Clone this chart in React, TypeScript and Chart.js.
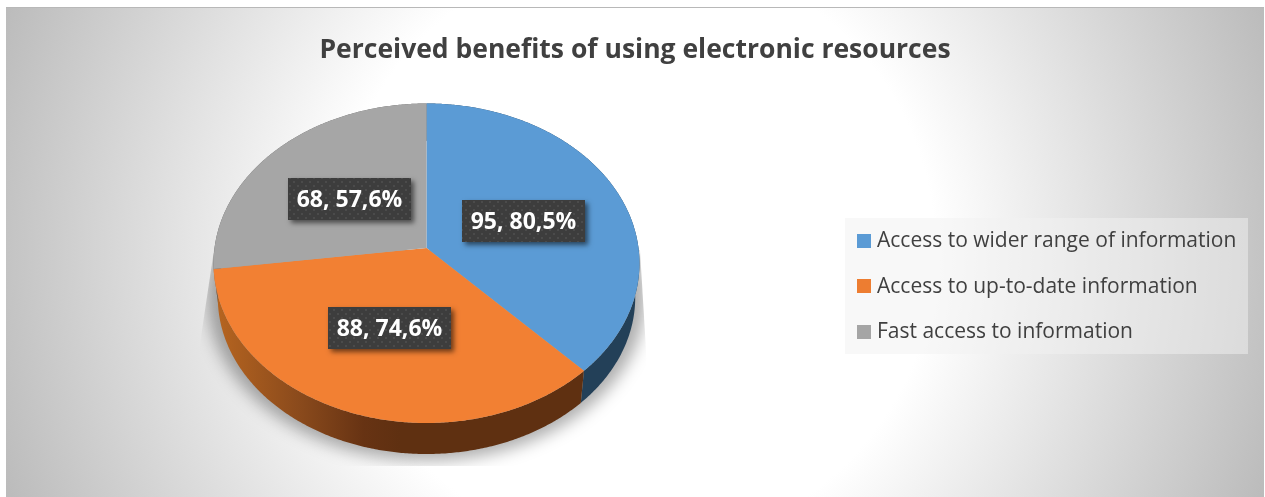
import React, { useEffect, useRef } from "react";
import { Chart, registerables } from "chart.js";

Chart.register(...registerables);

const chartTitle = "Perceived benefits of using electronic resources";
const categories = [
  "Access to wider range of information",
  "Access to up-to-date information",
  "Fast access to information",
];
const respondents = [95, 88, 68];
const percentages = [80.5, 74.6, 57.6];
const faceColors = ["#5b9bd5", "#f28033", "#a6a6a6"];
const legendColors = ["#5b9bd5", "#ed7d31", "#a5a5a5"];

const WIDTH = 1265;
const HEIGHT = 497;

// Tilted disc: a homography from the unit circle to the screen.
const PIE = { cx: 426.5, cy: 248, ax: 212, ay: 158.3, k: 0.0955 };
const BASE = { scale: 0.98, drop: 34.5 };

function project(angle: number, radius = 1, scale = 1, drop = 0) {
  const u = Math.cos(angle) * radius;
  const v = Math.sin(angle) * radius;
  const d = 1 - PIE.k * v;
  return {
    x: PIE.cx + (scale * PIE.ax * u) / d,
    y: PIE.cy + drop + (scale * PIE.ay * v) / d,
  };
}

function traceRim(
  ctx: CanvasRenderingContext2D,
  from: number,
  to: number,
  scale = 1,
  drop = 0,
  move = false,
) {
  const steps = Math.max(8, Math.ceil(Math.abs(to - from) * 120));
  for (let i = 0; i <= steps; i++) {
    const p = project(from + ((to - from) * i) / steps, 1, scale, drop);
    if (i === 0 && move) ctx.moveTo(p.x, p.y);
    else ctx.lineTo(p.x, p.y);
  }
}

function paintBackground(ctx: CanvasRenderingContext2D) {
  ctx.fillStyle = "#ffffff";
  ctx.fillRect(0, 0, WIDTH, HEIGHT);
  const g = ctx.createRadialGradient(635, 250, 300, 635, 250, 676);
  g.addColorStop(0, "#ffffff");
  g.addColorStop(1, "#bbbbbb");
  ctx.fillStyle = g;
  ctx.fillRect(6, 7, 1258, HEIGHT - 7);
  ctx.fillStyle = "#b8b8b8";
  ctx.fillRect(6, 7, 1258, 1);
}

function paintGroundShadow(ctx: CanvasRenderingContext2D) {
  ctx.save();
  ctx.beginPath();
  ctx.moveTo(214, 250);
  ctx.lineTo(199, 350);
  ctx.lineTo(199, 466);
  ctx.lineTo(653, 466);
  ctx.lineTo(640, 250);
  ctx.closePath();
  ctx.clip();
  ctx.filter = "blur(8px)";
  ctx.fillStyle = "rgba(0,0,0,0.32)";
  ctx.beginPath();
  traceRim(ctx, 0, Math.PI * 2, 1.03, BASE.drop - 2, true);
  ctx.closePath();
  ctx.fill();
  ctx.restore();
}

function wallFill(ctx: CanvasRenderingContext2D, index: number) {
  if (index === 0) return "#234058";
  if (index === 2) return "#5f5f5f";
  const g = ctx.createLinearGradient(218, 0, 400, 0);
  g.addColorStop(0, "#b56420");
  g.addColorStop(0.45, "#8a4a1c");
  g.addColorStop(0.8, "#673313");
  g.addColorStop(1, "#5f3011");
  return g;
}

function dotPattern(ctx: CanvasRenderingContext2D) {
  const tile = document.createElement("canvas");
  tile.width = 8;
  tile.height = 8;
  const t = tile.getContext("2d")!;
  t.fillStyle = "#3d3d3d";
  t.fillRect(0, 0, 8, 8);
  t.fillStyle = "#4b4b4b";
  t.fillRect(1, 1, 2, 2);
  t.fillRect(5, 5, 2, 2);
  return ctx.createPattern(tile, "repeat")!;
}

const perspectivePie = {
  id: "perspectivePie",
  beforeDraw(chart: any) {
    paintBackground(chart.ctx);
  },
  beforeDatasetDraw(chart: any, args: any) {
    const ctx: CanvasRenderingContext2D = chart.ctx;
    const arcs = args.meta.data;
    paintGroundShadow(ctx);
    // Side wall first, so the top face overlaps its upper edge.
    arcs.forEach((arc: any, i: number) => {
      ctx.beginPath();
      traceRim(ctx, arc.startAngle, arc.endAngle, 1, 0, true);
      traceRim(ctx, arc.endAngle, arc.startAngle, BASE.scale, BASE.drop);
      ctx.closePath();
      ctx.fillStyle = wallFill(ctx, i);
      ctx.fill();
    });
    arcs.forEach((arc: any, i: number) => {
      ctx.beginPath();
      ctx.moveTo(PIE.cx, PIE.cy);
      traceRim(ctx, arc.startAngle, arc.endAngle);
      ctx.closePath();
      ctx.fillStyle = chart.data.datasets[0].backgroundColor[i];
      ctx.fill();
    });
    return false;
  },
  afterDraw(chart: any) {
    const ctx: CanvasRenderingContext2D = chart.ctx;
    const arcs = chart.getDatasetMeta(0).data;
    const pattern = dotPattern(ctx);

    // Value labels on dark plates at the middle of each slice.
    arcs.forEach((arc: any, i: number) => {
      const mid = (arc.startAngle + arc.endAngle) / 2;
      const c = project(mid, 0.5);
      const w = 123;
      const h = 42;
      const x = Math.round(c.x - w / 2);
      const y = Math.round(c.y + 2 - h / 2);
      ctx.save();
      ctx.shadowColor = "rgba(0,0,0,0.55)";
      ctx.shadowBlur = 5;
      ctx.shadowOffsetX = 3;
      ctx.shadowOffsetY = 3;
      ctx.fillStyle = "#3d3d3d";
      ctx.fillRect(x, y, w, h);
      ctx.restore();
      ctx.fillStyle = pattern;
      ctx.fillRect(x, y, w, h);
      ctx.fillStyle = "#ffffff";
      ctx.font = "700 23px 'Open Sans', sans-serif";
      ctx.textAlign = "center";
      ctx.textBaseline = "middle";
      const pct = percentages[i].toFixed(1).replace(".", ",");
      ctx.fillText(`${respondents[i]}, ${pct}%`, x + w / 2, y + h / 2 + 1);
    });

    // Legend panel.
    ctx.fillStyle = "rgba(242,242,242,0.5)";
    ctx.fillRect(845, 218, 403, 136);
    ctx.font = "400 21px 'Open Sans', sans-serif";
    ctx.textAlign = "left";
    ctx.textBaseline = "middle";
    chart.data.labels.forEach((label: string, i: number) => {
      const y = 240 + i * 45.25;
      ctx.fillStyle = legendColors[i];
      ctx.fillRect(857, Math.round(y - 6), 14, 14);
      ctx.fillStyle = "#404040";
      ctx.fillText(label, 877, y + 1.5);
    });
  },
};

export default function App() {
  const ref = useRef<HTMLCanvasElement>(null);
  useEffect(() => {
    const chart = new Chart(ref.current!, {
      type: "pie",
      data: {
        labels: categories,
        datasets: [{ data: respondents, backgroundColor: faceColors, borderWidth: 0 }],
      },
      options: {
        animation: false,
        responsive: false,
        layout: { padding: { left: 5 } },
        plugins: {
          legend: { display: false },
          tooltip: { enabled: false },
          title: {
            display: true,
            text: chartTitle,
            color: "#404040",
            font: { family: "'Open Sans', sans-serif", size: 26.5, weight: "bold" },
            padding: { top: 35, bottom: 10 },
          },
        },
      },
      plugins: [perspectivePie],
    } as any);
    return () => chart.destroy();
  }, []);
  return (
    <div style={{ position: "fixed", left: 0, top: 0, width: WIDTH, height: HEIGHT }}>
      <canvas ref={ref} width={WIDTH} height={HEIGHT} style={{ display: "block" }} />
    </div>
  );
}
